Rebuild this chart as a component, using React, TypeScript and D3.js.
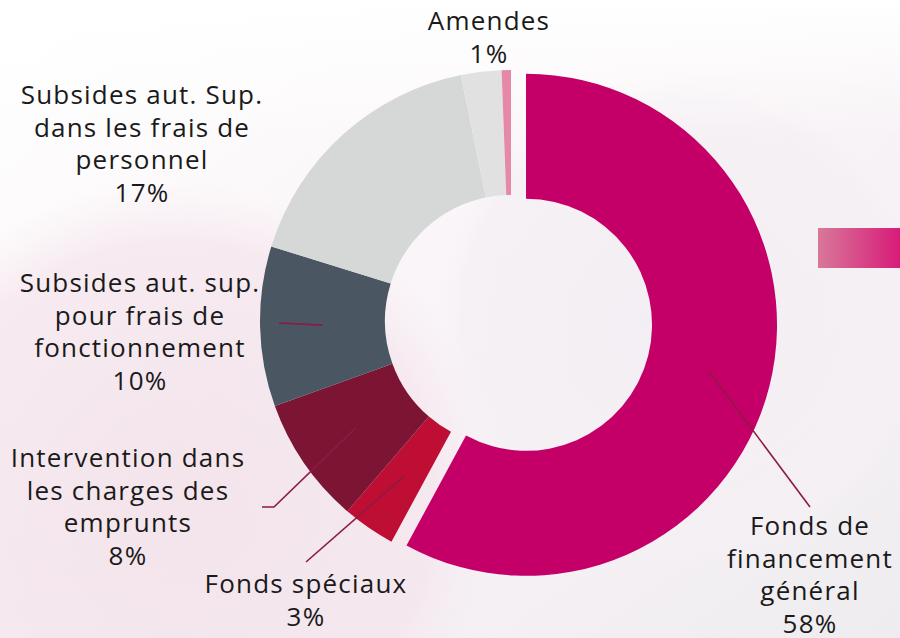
import React from "react";
import * as d3 from "d3";

const categories = [
  "Fonds de financement général",
  "Fonds spéciaux",
  "Intervention dans les charges des emprunts",
  "Subsides aut. sup. pour frais de fonctionnement",
  "Subsides aut. Sup. dans les frais de personnel",
  "Autres",
  "Amendes",
];
const values = [57.9, 3.4, 8.2, 10.3, 17.0, 2.6, 0.6];
const percentLabels = ["58%", "3%", "8%", "10%", "17%", "", "1%"];
const labelLines = [
  ["Fonds de", "financement", "général"],
  ["Fonds spéciaux"],
  ["Intervention dans", "les charges des", "emprunts"],
  ["Subsides aut. sup.", "pour frais de", "fonctionnement"],
  ["Subsides aut. Sup.", "dans les frais de", "personnel"],
  [],
  ["Amendes"],
];
const colors = ["#c40068", "#be0e34", "#7b1533", "#4a5762", "#d6d8d7", "#e1e1e1", "#e688a7"];

// layout (positions of labels and leader-line starts)
const labelPos: [number, number][] = [
  [810, 535], [306, 593], [128, 467], [140, 292], [142, 104], [0, 0], [489, 30],
];
const leaderStarts: [number, number][][] = [
  [[810, 507]], [[306, 562]], [[262, 507], [274, 507]], [[279, 323]], [], [], [],
];

const W = 900, H = 638;
const cx = 511, cy = 321, R = 251, r = 126, explode = 15.5;
const lineH = 32.5;

export default function App() {
  const pie = d3.pie<number>().sort(null).value((d) => d).startAngle(0).endAngle(2 * Math.PI);
  const arcs = pie(values);
  const arc = d3.arc<d3.PieArcDatum<number>>().innerRadius(r).outerRadius(R);

  const offsets = arcs.map((a, i) => {
    if (i !== 0) return [0, 0];
    const m = (a.startAngle + a.endAngle) / 2;
    return [Math.sin(m) * explode, -Math.cos(m) * explode];
  });

  return (
    <svg width={W} height={H} style={{ position: "absolute", left: 0, top: 0 }}>
      <defs>
        <linearGradient id="bg" x1="0" y1="0" x2="1" y2="1">
          <stop offset="0" stopColor="#ffffff" />
          <stop offset="0.45" stopColor="#faf5f8" />
          <stop offset="1" stopColor="#efecf0" />
        </linearGradient>
        <radialGradient id="pinkBlob" cx="0.5" cy="0.5" r="0.5">
          <stop offset="0" stopColor="#f2dfe8" stopOpacity="1" />
          <stop offset="0.8" stopColor="#f4e3eb" stopOpacity="0.9" />
          <stop offset="1" stopColor="#f6e8ee" stopOpacity="0" />
        </radialGradient>
        <radialGradient id="rightBlob" cx="0.5" cy="0.5" r="0.5">
          <stop offset="0" stopColor="#f3eef3" stopOpacity="1" />
          <stop offset="0.9" stopColor="#f5f0f4" stopOpacity="0.8" />
          <stop offset="1" stopColor="#f7f3f6" stopOpacity="0" />
        </radialGradient>
        <linearGradient id="fadeTop" x1="0" y1="0" x2="0" y2="1">
          <stop offset="0" stopColor="#ffffff" stopOpacity="1" />
          <stop offset="1" stopColor="#ffffff" stopOpacity="0" />
        </linearGradient>
        <linearGradient id="rect" x1="0" y1="0" x2="1" y2="0">
          <stop offset="0" stopColor="#d8789a" />
          <stop offset="1" stopColor="#d81b78" />
        </linearGradient>
      </defs>
      <rect x={0} y={0} width={W} height={H} fill="url(#bg)" />
      <circle cx={683} cy={320} r={245} fill="url(#rightBlob)" />
      <circle cx={175} cy={500} r={320} fill="url(#pinkBlob)" opacity={0.75} />
      <rect x={0} y={0} width={W} height={140} fill="url(#fadeTop)" />
      <rect x={818} y={228} width={82} height={40} fill="url(#rect)" />

      <g>
        {arcs.map((a, i) => (
          <path
            key={categories[i]}
            d={arc(a) || ""}
            fill={colors[i]}
            transform={`translate(${cx + offsets[i][0]},${cy + offsets[i][1]})`}
          />
        ))}
      </g>

      <g fill="none" stroke="#8c1a45" strokeWidth={1.6}>
        {arcs.map((a, i) => {
          const starts = leaderStarts[i];
          if (!starts.length) return null;
          const c = arc.centroid(a);
          const end: [number, number] = [c[0] + cx + offsets[i][0], c[1] + cy + offsets[i][1]];
          const pts = [...starts, end];
          return <path key={i} d={d3.line()(pts) || ""} />;
        })}
      </g>

      <g fontFamily="'Open Sans', sans-serif" fontSize={26} fill="#1a1a1a" textAnchor="middle" letterSpacing={1.2}>
        {arcs.map((a, i) => {
          if (!labelLines[i].length) return null;
          const [x, y] = labelPos[i];
          const lines = [...labelLines[i], percentLabels[i]];
          return (
            <text key={i} x={x} y={y}>
              {lines.map((l, j) => (
                <tspan key={j} x={x} y={y + j * lineH}>{l}</tspan>
              ))}
            </text>
          );
        })}
      </g>
    </svg>
  );
}
